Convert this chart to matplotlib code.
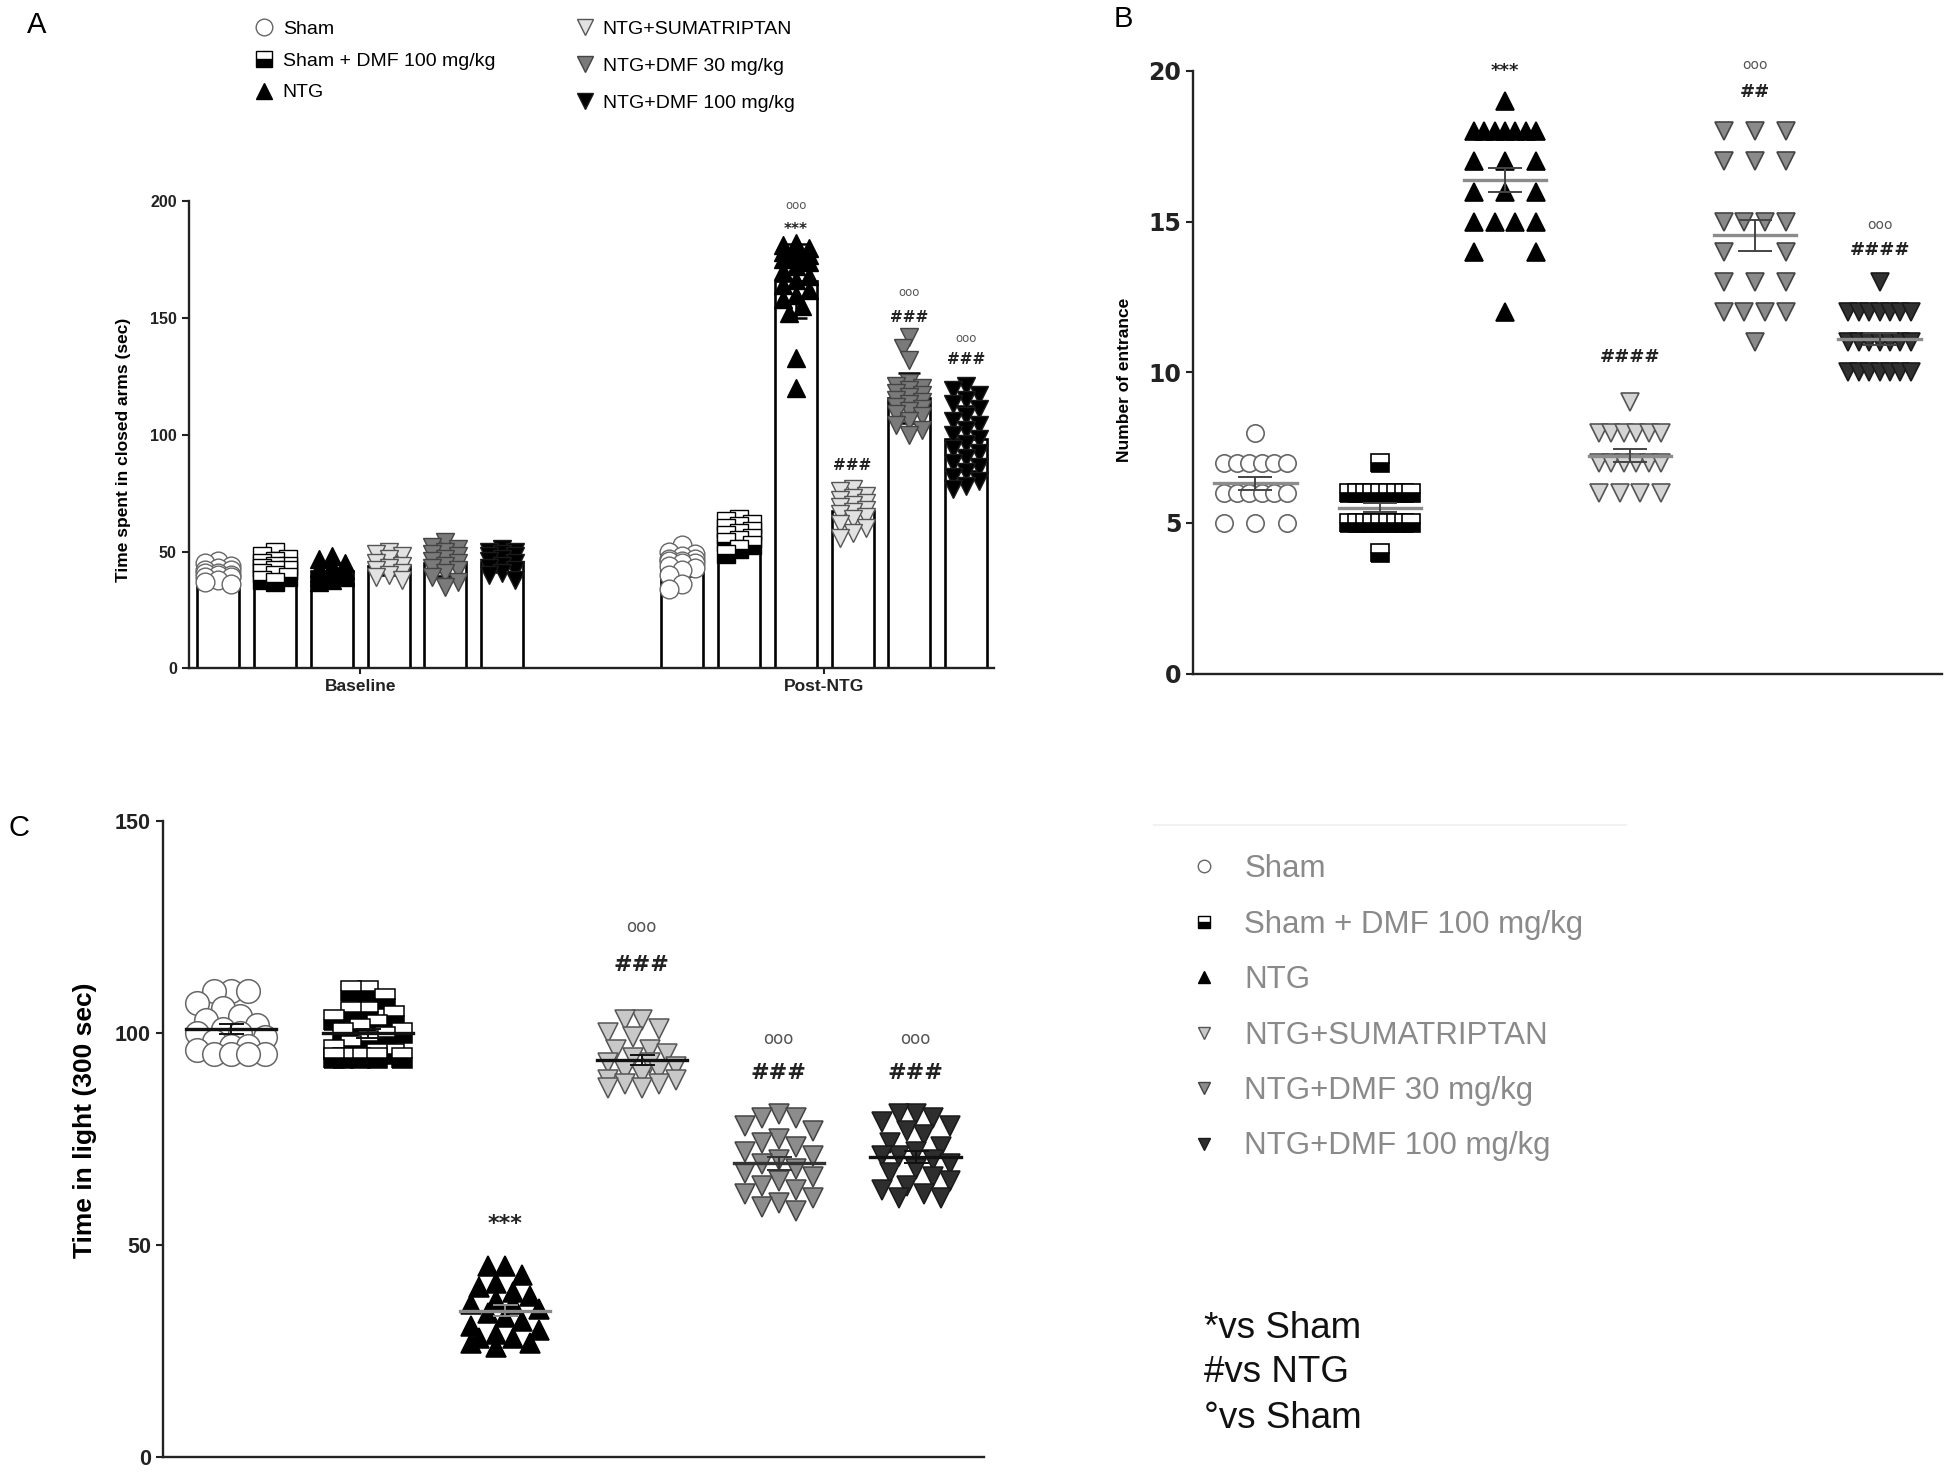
import numpy as np
import matplotlib
matplotlib.use("Agg")
import matplotlib.pyplot as plt
from matplotlib.lines import Line2D

plt.rcParams['font.family'] = ['Liberation Sans', 'DejaVu Sans']

# ---------------- data ----------------
groups = ["Sham", "Sham + DMF 100 mg/kg", "NTG", "NTG+SUMATRIPTAN",
          "NTG+DMF 30 mg/kg", "NTG+DMF 100 mg/kg"]
timepoints = ["Baseline", "Post-NTG"]

# Panel A: time spent in closed arms (sec)
a_base_sham = [46, 45, 44, 43, 42, 42, 41, 41, 40, 40, 39, 39, 38, 37, 36]
a_base_shamdmf = [50, 48, 47, 46, 45, 44, 44, 43, 42, 42, 41, 40, 39, 38, 37]
a_base_ntg = [48, 47, 45, 44, 43, 42, 41, 41, 40, 40, 39, 39, 38, 37]
a_base_suma = [50, 49, 48, 47, 45, 44, 43, 42, 41, 40, 39, 38]
a_base_dmf30 = [54, 52, 51, 50, 49, 48, 47, 46, 45, 44, 43, 42, 41, 39, 37, 35]
a_base_dmf100 = [51, 50, 50, 49, 48, 48, 47, 46, 45, 44, 43, 42, 41, 40, 38]

a_post_sham = [53, 50, 49, 48, 47, 47, 46, 46, 45, 45, 44, 43, 42, 40, 36, 34]
a_post_shamdmf = [64, 63, 62, 61, 60, 59, 58, 57, 56, 55, 54, 53, 51, 49]
a_post_ntg = [182, 181, 180, 179, 178, 177, 176, 175, 174, 172, 170, 168, 166,
              164, 162, 160, 158, 155, 152, 133, 120]
a_post_suma = [77, 76, 74, 73, 72, 71, 70, 69, 68, 67, 66, 65, 64, 62, 60, 58, 56]
a_post_dmf30 = [142, 137, 132, 122, 121, 120, 119, 118, 117, 116, 115, 114, 113,
                112, 111, 110, 109, 108, 106, 104, 102, 100]
a_post_dmf100 = [121, 119, 117, 115, 113, 111, 108, 106, 104, 102, 100, 98, 96,
                 94, 92, 90, 88, 86, 84, 82, 80, 78, 77]

# Panel B: number of entrance
b_sham = [8, 7, 7, 7, 7, 7, 7, 6, 6, 6, 6, 6, 6, 5, 5, 5]
b_shamdmf = [7, 6, 6, 6, 6, 6, 6, 6, 6, 6, 5, 5, 5, 5, 5, 5, 5, 5, 5, 4]
b_ntg = [19, 18, 18, 18, 18, 18, 18, 18, 17, 17, 17, 16, 16, 16, 15, 15, 15, 15,
         14, 14, 12]
b_suma = [9, 8, 8, 8, 8, 8, 8, 7, 7, 7, 7, 7, 7, 6, 6, 6, 6]
b_dmf30 = [18, 18, 18, 17, 17, 17, 15, 15, 15, 15, 14, 14, 13, 13, 13, 12, 12,
           12, 12, 11]
b_dmf100 = [13, 12, 12, 12, 12, 12, 12, 12, 11, 11, 11, 11, 11, 11, 11, 10, 10,
            10, 10, 10, 10, 10]

# Panel C: time in light (300 sec)
c_sham = [110, 110, 110, 107, 106, 104, 103, 102, 101, 100, 100, 99, 98, 97, 97,
          96, 95, 95, 95, 95]
c_shamdmf = [110, 110, 108, 105, 105, 104, 103, 102, 101, 100, 100, 99, 98, 97,
             96, 95, 95, 94, 94, 94, 94, 94]
c_ntg = [45, 45, 43, 41, 40, 39, 38, 37, 36, 36, 35, 34, 33, 32, 31, 30, 29, 28,
         28, 27, 27, 26]
c_suma = [103, 103, 101, 100, 99, 96, 96, 95, 94, 93, 93, 92, 91, 91, 90, 89, 89,
          88, 88, 87, 87]
c_dmf30 = [81, 80, 80, 78, 77, 75, 74, 73, 72, 71, 70, 69, 68, 67, 66, 65, 64,
           63, 62, 61, 60, 59, 58]
c_dmf100 = [81, 81, 80, 79, 78, 77, 76, 74, 73, 72, 71, 71, 70, 69, 68, 67, 66,
            65, 64, 63, 62, 61, 61]

# significance labels (group index, text)
a_stars = [(2, "***"), (3, "###"), (4, "###"), (5, "###")]
a_degs = [2, 4, 5]
b_stars = [(2, "***"), (3, "####"), (4, "##"), (5, "####")]
b_degs = [4, 5]
c_stars = [(2, "***"), (3, "###"), (4, "###"), (5, "###")]
c_degs = [3, 4, 5]
notes = ["*vs Sham", "#vs NTG", "°vs Sham"]

# ---------------- helpers ----------------
W, H = 1946, 1472


def swarm(vals, half_width, sx, sy, d):
    vals = np.asarray(vals, float)
    order = np.argsort(-vals, kind="stable")
    step = d * 0.5 / sx
    n = max(int(half_width / step), 0)
    cands = [0.0]
    for k in range(1, n + 1):
        cands += [-k * step, k * step]
    px, py = [], []
    xs = np.zeros(len(vals))
    for i in order:
        v = vals[i]
        best, bestcost = 0.0, np.inf
        for c in cands:
            if px:
                dist = np.hypot((np.array(px) - c) * sx, (np.array(py) - v) * sy)
                cost = np.clip(d - dist, 0, None).sum()
            else:
                cost = 0.0
            if cost < bestcost - 1e-9:
                best, bestcost = c, cost
            if cost == 0:
                break
        xs[i] = best
        px.append(best)
        py.append(v)
    return xs


def rows(vals, w):
    vals = np.asarray(vals, float)
    xs = np.zeros(len(vals))
    for u in np.unique(vals):
        idx = np.where(vals == u)[0]
        if len(idx) > 1:
            xs[idx] = np.linspace(-w, w, len(idx))
    return xs


def style_axes(ax):
    for s in ["top", "right"]:
        ax.spines[s].set_visible(False)
    for s in ["left", "bottom"]:
        ax.spines[s].set_linewidth(1.7)
        ax.spines[s].set_color("#222222")
    ax.tick_params(colors="#222222", width=1.5)


def sty(i, panel):
    base = [
        dict(marker="o", mfc="white", mec="#666666"),
        dict(marker="s", fillstyle="bottom", mfc="black", markerfacecoloralt="white", mec="black"),
        dict(marker="^", mfc="black", mec="black"),
        dict(marker="v", mfc={"A": "#e2e2e2", "B": "#d4d4d4", "C": "#c8c8c8"}[panel], mec="#555555"),
        dict(marker="v", mfc={"A": "#7a7a7a", "B": "#8a8a8a", "C": "#8c8c8c"}[panel], mec="#444444"),
        dict(marker="v", mfc={"A": "black", "B": "#303030", "C": "#2e2e2e"}[panel], mec="#1a1a1a"),
    ]
    return base[i]


fig = plt.figure(figsize=(W / 100, H / 100), dpi=100)

# ---------------- Panel A ----------------
axA = fig.add_axes([188.6 / W, 1 - 668.5 / H, (994 - 188.6) / W, (668.5 - 201) / H])
base_sets = [a_base_sham, a_base_shamdmf, a_base_ntg, a_base_suma, a_base_dmf30, a_base_dmf100]
post_sets = [a_post_sham, a_post_shamdmf, a_post_ntg, a_post_suma, a_post_dmf30, a_post_dmf100]
centers = [0.0, 8.17]
sxA = (994 - 188.6) / (11.16 + 3.02)
syA = (668.5 - 201) / 200
for gc, sets in zip(centers, [base_sets, post_sets]):
    for i, vals in enumerate(sets):
        x0 = gc + (i - 2.5)
        m = np.mean(vals)
        sd = np.std(vals, ddof=1)
        axA.bar(x0, m, width=0.74, facecolor="white", edgecolor="black", linewidth=1.9, zorder=2)
        axA.errorbar(x0, m, yerr=sd, color="black", capsize=8, capthick=1.8, elinewidth=1.8, zorder=2.5)
        xs = swarm(vals, 0.3, sxA, syA, 13)
        axA.plot(x0 + xs, vals, linestyle="none", ms=13.5, mew=1.0, zorder=3, **sty(i, "A"))
for gi, txt in a_stars:
    vals = post_sets[gi]
    y = max(vals) + {2: 6, 3: 10, 4: 8, 5: 11}[gi]
    axA.text(centers[1] + gi - 2.5, y, txt, ha="center", va="center", fontsize=11,
             fontweight="bold", family="DejaVu Sans", color="#222222", zorder=5)
for gi in a_degs:
    vals = post_sets[gi]
    y = max(vals) + {2: 16, 4: 19, 5: 20}[gi]
    axA.text(centers[1] + gi - 2.5, y, "ooo", ha="center", va="center", fontsize=8.5,
             family="DejaVu Sans", color="#555555", zorder=5)
axA.set_xlim(-3.02, 11.16)
axA.set_ylim(0, 200)
axA.set_yticks([0, 50, 100, 150, 200])
axA.set_xticks(centers)
axA.set_xticklabels(timepoints, fontsize=12.5, fontweight="bold")
axA.tick_params(axis="y", labelsize=11.5, length=5)
axA.tick_params(axis="x", length=4)
for t in axA.get_yticklabels():
    t.set_fontweight("bold")
axA.set_ylabel("Time spent in closed arms (sec)", fontsize=12.5, fontweight="bold")
axA.yaxis.set_label_coords(-0.071, 0.467)
style_axes(axA)

# legend A (two columns)
handlesA = [Line2D([], [], linestyle="none", ms=12, mew=1.0, **sty(i, "A")) for i in range(6)]
fig.legend(handlesA[:3], groups[:3], loc="upper left", bbox_to_anchor=(237 / W, 1 - 3 / H),
           frameon=False, fontsize=14, handlelength=1.0, handletextpad=0.45, labelspacing=0.72)
fig.legend(handlesA[3:], groups[3:], loc="upper left", bbox_to_anchor=(558 / W, 1 - 3 / H),
           frameon=False, fontsize=14, handlelength=1.0, handletextpad=0.4, labelspacing=1.0)

# ---------------- Panel B ----------------
axB = fig.add_axes([1193 / W, 1 - 673.5 / H, (1942 - 1193) / W, (673.5 - 71) / H])
b_sets = [b_sham, b_shamdmf, b_ntg, b_suma, b_dmf30, b_dmf100]
for i, vals in enumerate(b_sets):
    x0 = i + 1
    xs = rows(vals, 0.25)
    axB.plot(x0 + xs, vals, linestyle="none", ms=12.5, mew=1.2, zorder=3, **sty(i, "B"))
    m = np.mean(vals)
    se = np.std(vals, ddof=1) / np.sqrt(len(vals))
    axB.plot([x0 - 0.33, x0 + 0.33], [m, m], color="#8c8c8c", lw=2.4, zorder=4)
    axB.errorbar(x0, m, yerr=se, color="#444444", capsize=12, capthick=1.4, elinewidth=1.4, zorder=4)
for gi, txt in b_stars:
    y = max(b_sets[gi]) + {2: 1.0, 3: 1.5, 4: 1.3, 5: 1.05}[gi]
    axB.text(gi + 1, y, txt, ha="center", va="center", fontsize=13, fontweight="bold",
             family="DejaVu Sans", color="#222222", zorder=5)
for gi in b_degs:
    y = max(b_sets[gi]) + {4: 2.2, 5: 1.9}[gi]
    axB.text(gi + 1, y, "ooo", ha="center", va="center", fontsize=10,
             family="DejaVu Sans", color="#555555", zorder=5)
axB.set_xlim(0.5, 6.5)
axB.set_ylim(0, 20)
axB.set_yticks([0, 5, 10, 15, 20])
axB.set_xticks([])
axB.tick_params(axis="y", length=5)
for t in axB.get_yticklabels():
    t.set_fontweight("bold")
    t.set_fontsize(17)
    t.set_family("DejaVu Sans")
axB.set_ylabel("Number of entrance", fontsize=12.5, fontweight="bold")
axB.yaxis.set_label_coords(-0.082, 0.487)
style_axes(axB)

# ---------------- Panel C ----------------
axC = fig.add_axes([162.7 / W, 1 - 1457 / H, (984 - 162.7) / W, (1457 - 821) / H])
c_sets = [c_sham, c_shamdmf, c_ntg, c_suma, c_dmf30, c_dmf100]
sxC = (984 - 162.7) / 6.0
syC = (1457 - 821) / 150
c_line = ["#111111", "#111111", "#8a8a8a", "#111111", "#333333", "#111111"]
ms_c = [17, 15, 15, 15, 15, 15]
for i, vals in enumerate(c_sets):
    x0 = i + 1
    xs = swarm(vals, 0.26, sxC, syC, 17)
    axC.plot(x0 + xs, vals, linestyle="none", ms=ms_c[i], mew=1.1, zorder=3, **sty(i, "C"))
    m = np.mean(vals)
    se = np.std(vals, ddof=1) / np.sqrt(len(vals))
    axC.plot([x0 - 0.33, x0 + 0.33], [m, m], color=c_line[i], lw=2.4, zorder=4)
    axC.errorbar(x0, m, yerr=se, color=c_line[i], capsize=9, capthick=1.4, elinewidth=1.4, zorder=4)
for gi, txt in c_stars:
    y = max(c_sets[gi]) + {2: 10, 3: 13, 4: 9.5, 5: 9.5}[gi]
    axC.text(gi + 1, y, txt, ha="center", va="center", fontsize=16, fontweight="bold",
             family="DejaVu Sans", color="#222222", zorder=5)
for gi in c_degs:
    y = max(c_sets[gi]) + {3: 22, 4: 17.5, 5: 17.5}[gi]
    axC.text(gi + 1, y, "ooo", ha="center", va="center", fontsize=12,
             family="DejaVu Sans", color="#555555", zorder=5)
axC.set_xlim(0.5, 6.5)
axC.set_ylim(0, 150)
axC.set_yticks([0, 50, 100, 150])
axC.set_xticks([])
axC.tick_params(axis="y", labelsize=15.5, length=5)
for t in axC.get_yticklabels():
    t.set_fontweight("bold")
axC.set_ylabel("Time in light (300 sec)", fontsize=19, fontweight="bold")
axC.yaxis.set_label_coords(-0.080, 0.53)
style_axes(axC)

# ---------------- legend for C ----------------
fig.add_artist(Line2D([1154 / W, 1626 / W], [1 - 825 / H, 1 - 825 / H],
                      color="#f2f2f2", lw=1.5, transform=fig.transFigure))
handlesC = [Line2D([], [], linestyle="none", ms=9, mew=1.0, **sty(i, "C")) for i in range(6)]
fig.legend(handlesC, groups, loc="upper left", bbox_to_anchor=(1160 / W, 1 - 826 / H),
           frameon=False, fontsize=22.5, labelcolor="#8a8a8a", handlelength=1.0,
           handletextpad=0.8, labelspacing=0.815)
for k, t in enumerate(notes):
    fig.text(1204 / W, 1 - (1328 + 45 * k) / H, t, fontsize=26.5, va="center", ha="left",
             color="#111111")

# panel letters
fig.text(37 / W, 1 - 25 / H, "A", fontsize=21, ha="center", va="center")
fig.text(1123 / W, 1 - 19 / H, "B", fontsize=21, ha="center", va="center")
fig.text(19 / W, 1 - 828 / H, "C", fontsize=21, ha="center", va="center")

fig.savefig("out.png", dpi=100)
